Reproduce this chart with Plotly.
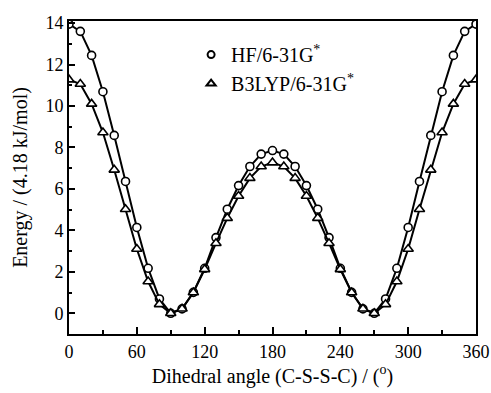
import plotly.graph_objects as go

angles = list(range(0, 361, 10))
hf_half = [13.95, 13.6, 12.44, 10.69, 8.58, 6.36, 4.14, 2.17, 0.69, 0.0,
           0.21, 1.01, 2.17, 3.65, 5.02, 6.16, 7.08, 7.68, 7.85]
b3_half = [11.27, 11.06, 10.1, 8.72, 6.92, 5.02, 3.1, 1.53, 0.43, 0.0,
           0.22, 1.0, 2.12, 3.38, 4.59, 5.66, 6.52, 7.08, 7.27]
hf = hf_half + hf_half[-2::-1]
b3 = b3_half + b3_half[-2::-1]

FONT = "Liberation Serif"

fig = go.Figure()
fig.add_trace(go.Scatter(
    x=angles, y=hf, mode="lines+markers", showlegend=False,
    line=dict(color="black", width=2),
    marker=dict(symbol="circle", size=8, color="white",
                line=dict(color="black", width=1.6)),
))
fig.add_trace(go.Scatter(
    x=angles, y=b3, mode="lines+markers", showlegend=False,
    line=dict(color="black", width=2),
    marker=dict(symbol="triangle-up", size=9, color="white",
                line=dict(color="black", width=1.6)),
))
fig.add_trace(go.Scatter(
    x=[None], y=[None], mode="markers", name="HF/6-31G<sup>*</sup>",
    marker=dict(symbol="circle", size=7, color="white",
                line=dict(color="black", width=2)),
))
fig.add_trace(go.Scatter(
    x=[None], y=[None], mode="markers", name="B3LYP/6-31G<sup>*</sup>",
    marker=dict(symbol="triangle-up", size=8, color="white",
                line=dict(color="black", width=2)),
))

axis_common = dict(
    showline=True, linecolor="black", linewidth=2, mirror=True,
    ticks="inside", tickcolor="black", tickwidth=1.6,
    showgrid=False, zeroline=False, automargin=False,
    tickfont=dict(family=FONT, size=18, color="black"),
)

fig.update_layout(
    width=491, height=393,
    margin=dict(l=69, r=15, t=21, b=59),
    paper_bgcolor="white", plot_bgcolor="white",
    font=dict(family=FONT, color="black", size=18),
    xaxis=dict(
        **axis_common, range=[0, 360], dtick=60, tick0=0, ticklen=7,
        minor=dict(dtick=30, tick0=0, ticklen=4, tickwidth=1.6, ticks="inside", tickcolor="black"),
        title=dict(text="Dihedral angle (C-S-S-C) / (<sup>o</sup>)",
                   font=dict(family=FONT, size=20, color="black"), standoff=8),
    ),
    yaxis=dict(
        **axis_common, range=[-1, 14.1], dtick=2, tick0=0, ticklen=6,
        minor=dict(dtick=1, tick0=0, ticklen=3, tickwidth=1.6, ticks="inside", tickcolor="black"),
        title=dict(text="Energy / (4.18 kJ/mol)",
                   font=dict(family=FONT, size=20, color="black"), standoff=12),
    ),
    legend=dict(
        x=0.30, y=0.955, xanchor="left", yanchor="top",
        bgcolor="rgba(0,0,0,0)", font=dict(family=FONT, size=20, color="black"),
        itemwidth=30, tracegroupgap=0,
    ),
)

fig.write_html("out.html", config={"displayModeBar": False},
               post_script="document.body.style.margin='0';")
